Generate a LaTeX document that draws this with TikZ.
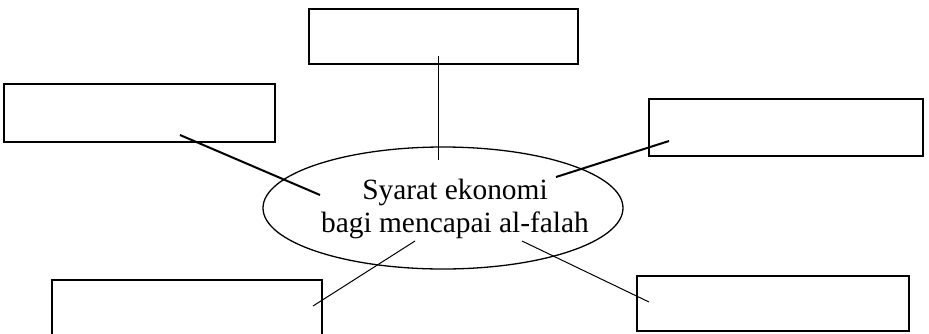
\documentclass[tikz,border=0pt]{standalone}
\usepackage{fontspec}
\setmainfont{Liberation Serif}
\usetikzlibrary{shapes.geometric}
\begin{document}
\begin{tikzpicture}[x=1pt,y=-1pt,
  blank/.style={draw,line width=1.4pt,rectangle,inner sep=0pt},
  hub/.style={draw,line width=1.3pt,ellipse,inner sep=0pt,minimum width=360pt,minimum height=122pt},
  lbl/.style={align=center,inner sep=0pt,font=\fontsize{29.4}{33}\selectfont},
  thick link/.style={line width=2pt},
  thin link/.style={line width=1pt}]
\clip (0,0) rectangle (929,333);
\fill[white] (0,0) rectangle (929,333);
% boxes
\node[blank,minimum width=269pt,minimum height=55pt] (top) at (443.5,36.5) {};
\node[blank,minimum width=271pt,minimum height=58pt] (left) at (139.5,113) {};
\node[blank,minimum width=274pt,minimum height=57pt] (right) at (786,127.5) {};
\node[blank,minimum width=270pt,minimum height=58pt] (bl) at (187,309) {};
\node[blank,minimum width=272pt,minimum height=55pt] (br) at (773,303.5) {};
% centre
\node[hub] (hub) at (443,208) {};
\node[lbl] (txt) at (455,209) {Syarat ekonomi\\bagi mencapai al-falah};
% connector end points
\coordinate (t1) at (438,56);  \coordinate (t2) at (438,160);
\coordinate (l1) at (180,135); \coordinate (l2) at (320,195);
\coordinate (r1) at (669,141); \coordinate (r2) at (556,177);
\coordinate (b1) at (313,306); \coordinate (b2) at (415,241);
\coordinate (c1) at (649,302); \coordinate (c2) at (522,241);
\draw[thin link] (t1) -- (t2);
\draw[thick link] (l1) -- (l2);
\draw[thick link] (r1) -- (r2);
\draw[thin link] (b1) -- (b2);
\draw[thin link] (c1) -- (c2);
\end{tikzpicture}
\end{document}
